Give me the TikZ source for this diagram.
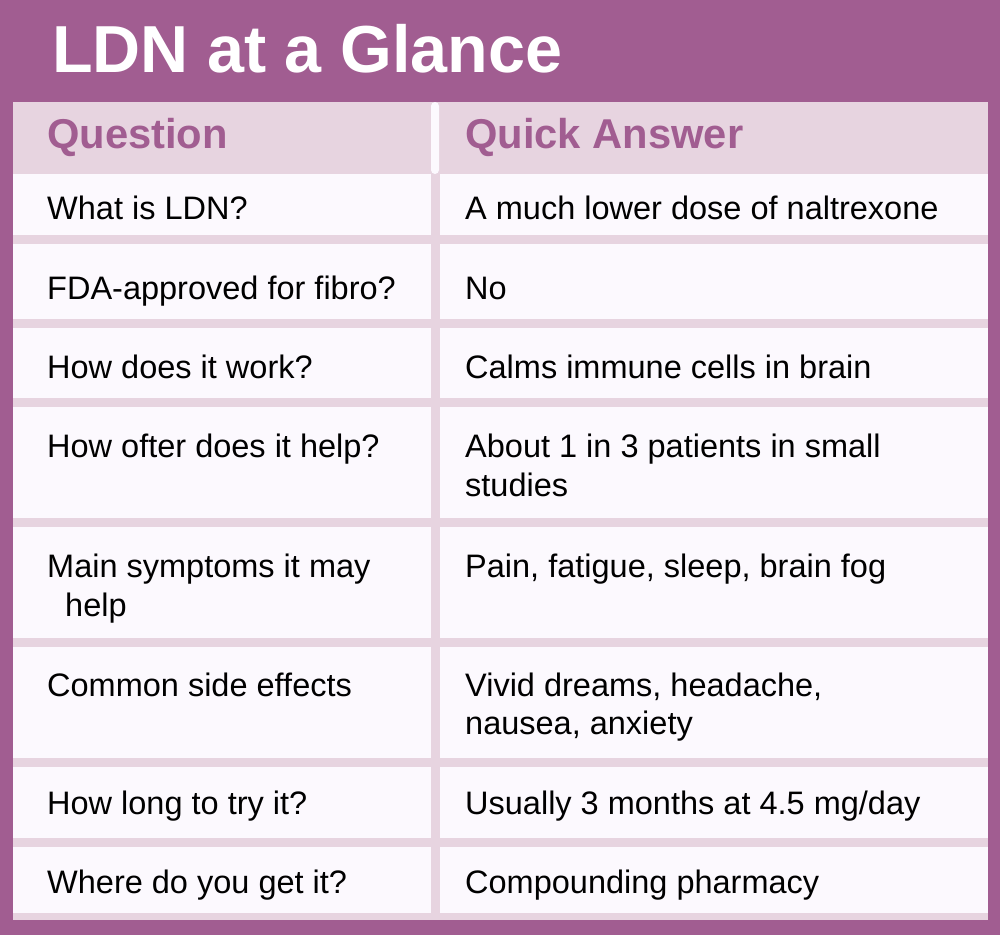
\documentclass[tikz,border=0pt]{standalone}
\usepackage{fontspec}
\setmainfont{Liberation Sans}
\definecolor{purp}{HTML}{A15D91}
\definecolor{pinkl}{HTML}{E7D4E0}
\definecolor{cellw}{HTML}{FCF9FE}
\begin{document}
\begin{tikzpicture}[x=1pt,y=-1pt,
  txt/.style={anchor=base west,inner sep=0pt,font=\fontsize{32.5}{38}\selectfont,text=black},
  hdr/.style={anchor=base west,inner sep=0pt,font=\fontsize{41.7}{48}\selectfont\bfseries,text=purp}]
\useasboundingbox (0,0) rectangle (1000,935);
\fill[purp] (0,0) rectangle (1000,935);
\fill[pinkl] (13,102) rectangle (988,920);
\fill[cellw,rounded corners=4pt] (431,102) rectangle (439,174);
\foreach \a/\b in {174/235,244/319,328/398,407/518,527/638,647/758,767/838,847/913}{
  \fill[cellw] (13,\a) rectangle (431,\b);
  \fill[cellw] (440,\a) rectangle (988,\b);
}
\node[anchor=base west,inner sep=0pt,text=white,font=\fontsize{66.5}{74}\selectfont\bfseries] (title) at (52,72) {LDN at a Glance};
\node[hdr] (hq) at (47,148) {Question};
\node[hdr] (ha) at (465,148) {Quick Answer};
\node[txt] (q1) at (47,219) {What is LDN?};
\node[txt] (a1) at (465,219) {A much lower dose of naltrexone};
\node[txt] (q2) at (47,299) {FDA-approved for fibro?};
\node[txt] (a2) at (465,299) {No};
\node[txt] (q3) at (47,378) {How does it work?};
\node[txt] (a3) at (465,378) {Calms immune cells in brain};
\node[txt] (q4) at (47,457) {How ofter does it help?};
\node[txt] (a4) at (465,457) {About 1 in 3 patients in small};
\node[txt] (a4b) at (465,496) {studies};
\node[txt] (q5) at (47,577) {Main symptoms it may};
\node[txt] (q5b) at (65,616) {help};
\node[txt] (a5) at (465,577) {Pain, fatigue, sleep, brain fog};
\node[txt] (q6) at (47,696) {Common side effects};
\node[txt] (a6) at (465,696) {Vivid dreams, headache,};
\node[txt] (a6b) at (465,734) {nausea, anxiety};
\node[txt] (q7) at (47,814) {How long to try it?};
\node[txt] (a7) at (465,814) {Usually 3 months at 4.5 mg/day};
\node[txt] (q8) at (47,893) {Where do you get it?};
\node[txt] (a8) at (465,893) {Compounding pharmacy};
\end{tikzpicture}
\end{document}
